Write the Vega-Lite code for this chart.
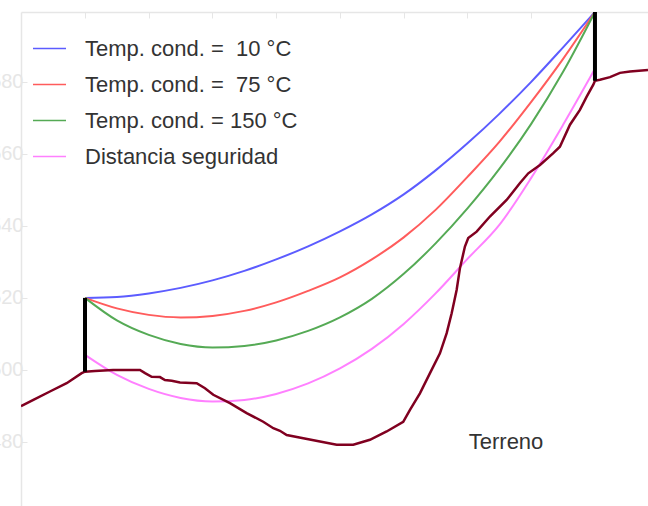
{
  "$schema": "https://vega.github.io/schema/vega-lite/v6.json",
  "width": 627,
  "height": 494,
  "autosize": {"type": "none"},
  "padding": {"left": 21, "top": 12, "right": 0, "bottom": 0},
  "background": "white",
  "config": {"view": {"stroke": null}},
  "datasets": {
    "cables": [
      {"s": "Temp. cond. = \u00a010 °C", "x": 0, "y": 520},
      {"s": "Temp. cond. = \u00a010 °C", "x": 25, "y": 520.28},
      {"s": "Temp. cond. = \u00a010 °C", "x": 50, "y": 521.25},
      {"s": "Temp. cond. = \u00a010 °C", "x": 75, "y": 522.78},
      {"s": "Temp. cond. = \u00a010 °C", "x": 100, "y": 524.86},
      {"s": "Temp. cond. = \u00a010 °C", "x": 125, "y": 527.5},
      {"s": "Temp. cond. = \u00a010 °C", "x": 150, "y": 530.69},
      {"s": "Temp. cond. = \u00a010 °C", "x": 175, "y": 534.31},
      {"s": "Temp. cond. = \u00a010 °C", "x": 200, "y": 538.47},
      {"s": "Temp. cond. = \u00a010 °C", "x": 225, "y": 543.19},
      {"s": "Temp. cond. = \u00a010 °C", "x": 250, "y": 548.75},
      {"s": "Temp. cond. = \u00a010 °C", "x": 275, "y": 555.42},
      {"s": "Temp. cond. = \u00a010 °C", "x": 300, "y": 562.92},
      {"s": "Temp. cond. = \u00a010 °C", "x": 325, "y": 571.11},
      {"s": "Temp. cond. = \u00a010 °C", "x": 350, "y": 580},
      {"s": "Temp. cond. = \u00a010 °C", "x": 375, "y": 589.58},
      {"s": "Temp. cond. = \u00a010 °C", "x": 400, "y": 599.4},
      {"s": "Temp. cond. = \u00a075 °C", "x": 0, "y": 520},
      {"s": "Temp. cond. = \u00a075 °C", "x": 25, "y": 517.08},
      {"s": "Temp. cond. = \u00a075 °C", "x": 50, "y": 515.28},
      {"s": "Temp. cond. = \u00a075 °C", "x": 75, "y": 514.58},
      {"s": "Temp. cond. = \u00a075 °C", "x": 100, "y": 515},
      {"s": "Temp. cond. = \u00a075 °C", "x": 125, "y": 516.39},
      {"s": "Temp. cond. = \u00a075 °C", "x": 150, "y": 518.75},
      {"s": "Temp. cond. = \u00a075 °C", "x": 175, "y": 521.94},
      {"s": "Temp. cond. = \u00a075 °C", "x": 200, "y": 525.69},
      {"s": "Temp. cond. = \u00a075 °C", "x": 225, "y": 530.69},
      {"s": "Temp. cond. = \u00a075 °C", "x": 250, "y": 536.81},
      {"s": "Temp. cond. = \u00a075 °C", "x": 275, "y": 544.44},
      {"s": "Temp. cond. = \u00a075 °C", "x": 300, "y": 553.61},
      {"s": "Temp. cond. = \u00a075 °C", "x": 325, "y": 563.33},
      {"s": "Temp. cond. = \u00a075 °C", "x": 350, "y": 574.44},
      {"s": "Temp. cond. = \u00a075 °C", "x": 375, "y": 586.39},
      {"s": "Temp. cond. = \u00a075 °C", "x": 400, "y": 599.4},
      {"s": "Temp. cond. = 150 °C", "x": 0, "y": 520},
      {"s": "Temp. cond. = 150 °C", "x": 25, "y": 513.75},
      {"s": "Temp. cond. = 150 °C", "x": 50, "y": 509.72},
      {"s": "Temp. cond. = 150 °C", "x": 75, "y": 507.22},
      {"s": "Temp. cond. = 150 °C", "x": 100, "y": 506.25},
      {"s": "Temp. cond. = 150 °C", "x": 125, "y": 506.67},
      {"s": "Temp. cond. = 150 °C", "x": 150, "y": 508.19},
      {"s": "Temp. cond. = 150 °C", "x": 175, "y": 510.83},
      {"s": "Temp. cond. = 150 °C", "x": 200, "y": 514.58},
      {"s": "Temp. cond. = 150 °C", "x": 225, "y": 519.72},
      {"s": "Temp. cond. = 150 °C", "x": 250, "y": 526.67},
      {"s": "Temp. cond. = 150 °C", "x": 275, "y": 535.14},
      {"s": "Temp. cond. = 150 °C", "x": 300, "y": 544.86},
      {"s": "Temp. cond. = 150 °C", "x": 325, "y": 555.83},
      {"s": "Temp. cond. = 150 °C", "x": 350, "y": 568.33},
      {"s": "Temp. cond. = 150 °C", "x": 375, "y": 582.78},
      {"s": "Temp. cond. = 150 °C", "x": 400, "y": 599.4},
      {"s": "Distancia seguridad", "x": 0, "y": 504.17},
      {"s": "Distancia seguridad", "x": 25, "y": 498.61},
      {"s": "Distancia seguridad", "x": 50, "y": 494.72},
      {"s": "Distancia seguridad", "x": 75, "y": 492.22},
      {"s": "Distancia seguridad", "x": 100, "y": 491.25},
      {"s": "Distancia seguridad", "x": 125, "y": 491.67},
      {"s": "Distancia seguridad", "x": 150, "y": 493.33},
      {"s": "Distancia seguridad", "x": 175, "y": 496.25},
      {"s": "Distancia seguridad", "x": 200, "y": 500.42},
      {"s": "Distancia seguridad", "x": 225, "y": 505.83},
      {"s": "Distancia seguridad", "x": 250, "y": 512.78},
      {"s": "Distancia seguridad", "x": 275, "y": 521.25},
      {"s": "Distancia seguridad", "x": 300, "y": 530.83},
      {"s": "Distancia seguridad", "x": 325, "y": 540.28},
      {"s": "Distancia seguridad", "x": 350, "y": 553.33},
      {"s": "Distancia seguridad", "x": 375, "y": 568.06},
      {"s": "Distancia seguridad", "x": 400, "y": 583.61}
    ],
    "terreno": [
      {"x": -50.2, "y": 489.9}, {"x": -40.5, "y": 491.7}, {"x": -27.5, "y": 494.0},
      {"x": -14.4, "y": 496.3}, {"x": -2.6, "y": 499.1}, {"x": 0, "y": 499.5},
      {"x": 7.8, "y": 499.7}, {"x": 22.0, "y": 500}, {"x": 43.1, "y": 500},
      {"x": 47.1, "y": 499.1}, {"x": 52.3, "y": 498.1}, {"x": 58.8, "y": 498.0},
      {"x": 62.7, "y": 497.2}, {"x": 68.0, "y": 497.0}, {"x": 74.5, "y": 496.5},
      {"x": 87.6, "y": 496.3}, {"x": 94.1, "y": 494.9}, {"x": 100.6, "y": 493.1},
      {"x": 113.7, "y": 490.75}, {"x": 126.8, "y": 488.0}, {"x": 139.8, "y": 485.6},
      {"x": 147.7, "y": 483.8}, {"x": 152.9, "y": 483.1}, {"x": 158.2, "y": 481.9},
      {"x": 171.2, "y": 481.0}, {"x": 184.3, "y": 480.1}, {"x": 197.4, "y": 479.2},
      {"x": 210.4, "y": 479.2}, {"x": 223.5, "y": 480.6}, {"x": 236.6, "y": 482.9},
      {"x": 249.6, "y": 485.6}, {"x": 254.9, "y": 488.9}, {"x": 262.7, "y": 493.5},
      {"x": 270.6, "y": 499.1}, {"x": 278.4, "y": 504.6}, {"x": 283.7, "y": 510.2},
      {"x": 287.6, "y": 515.75}, {"x": 291.5, "y": 522.2}, {"x": 294.1, "y": 528.25},
      {"x": 298.0, "y": 534.25}, {"x": 300.6, "y": 536.6}, {"x": 307.2, "y": 538.4},
      {"x": 317.6, "y": 542.6}, {"x": 330.7, "y": 547.2}, {"x": 341.2, "y": 551.9},
      {"x": 347.7, "y": 554.6}, {"x": 356.9, "y": 556.9}, {"x": 367.3, "y": 560.2},
      {"x": 372.5, "y": 562.0}, {"x": 380.4, "y": 568.1}, {"x": 388.2, "y": 572.2},
      {"x": 393.5, "y": 575.9}, {"x": 398.7, "y": 579.2}, {"x": 400, "y": 580.3},
      {"x": 403.9, "y": 580.6}, {"x": 411.8, "y": 581.3}, {"x": 419.6, "y": 582.5},
      {"x": 427.5, "y": 582.9}, {"x": 441.6, "y": 583.3}
    ],
    "torres": [
      {"x": 0, "y": 499.5, "y2": 520},
      {"x": 400, "y": 580.3, "y2": 599.4}
    ],
    "etiqueta": [
      {"x": 301, "y": 478, "t": "Terreno"}
    ]
  },
  "layer": [
    {
      "data": {"name": "cables"},
      "mark": {"type": "line", "strokeWidth": 2, "interpolate": "monotone", "clip": true},
      "encoding": {
        "x": {
          "field": "x", "type": "quantitative",
          "scale": {"domain": [-50.2, 441.6], "nice": false, "zero": false},
          "axis": {
            "orient": "top", "title": null, "labels": false, "grid": false,
            "values": [0, 50, 100, 150, 200, 250, 300, 350, 400],
            "tickSize": -6, "tickColor": "#e6e6e6", "domainColor": "#e6e6e6", "domainWidth": 1.5
          }
        },
        "y": {
          "field": "y", "type": "quantitative",
          "scale": {"domain": [462.2, 599.4], "nice": false, "zero": false},
          "axis": {
            "orient": "left", "title": null, "grid": false,
            "values": [480, 500, 520, 540, 560, 580],
            "tickSize": -6, "tickColor": "#e6e6e6", "domainColor": "#e6e6e6", "domainWidth": 1.5,
            "labelColor": "#e6e6e6", "labelFontSize": 20, "labelFont": "Liberation Sans", "labelPadding": 4
          }
        },
        "color": {
          "field": "s", "type": "nominal",
          "scale": {
            "domain": ["Temp. cond. = \u00a010 °C", "Temp. cond. = \u00a075 °C", "Temp. cond. = 150 °C", "Distancia seguridad"],
            "range": ["#5c5cff", "#ff5c5c", "#55aa55", "#ff80ff"]
          },
          "legend": {
            "orient": "none", "legendX": 11, "legendY": 19, "title": null,
            "symbolType": "stroke", "symbolSize": 1089, "symbolStrokeWidth": 1.5,
            "labelFont": "Liberation Sans", "labelFontSize": 22, "labelColor": "#333333",
            "labelOffset": 18, "rowPadding": 7, "padding": 0, "labelLimit": 400
          }
        }
      }
    },
    {
      "data": {"name": "terreno"},
      "mark": {"type": "line", "strokeWidth": 2.5, "color": "#800020", "clip": true},
      "encoding": {
        "x": {"field": "x", "type": "quantitative"},
        "y": {"field": "y", "type": "quantitative"}
      }
    },
    {
      "data": {"name": "torres"},
      "mark": {"type": "rule", "strokeWidth": 4, "color": "#000000"},
      "encoding": {
        "x": {"field": "x", "type": "quantitative"},
        "y": {"field": "y", "type": "quantitative"},
        "y2": {"field": "y2"}
      }
    },
    {
      "data": {"name": "etiqueta"},
      "mark": {"type": "text", "align": "left", "baseline": "alphabetic", "font": "Liberation Sans", "fontSize": 22, "color": "#333333"},
      "encoding": {
        "x": {"field": "x", "type": "quantitative"},
        "y": {"field": "y", "type": "quantitative"},
        "text": {"field": "t"}
      }
    }
  ]
}
